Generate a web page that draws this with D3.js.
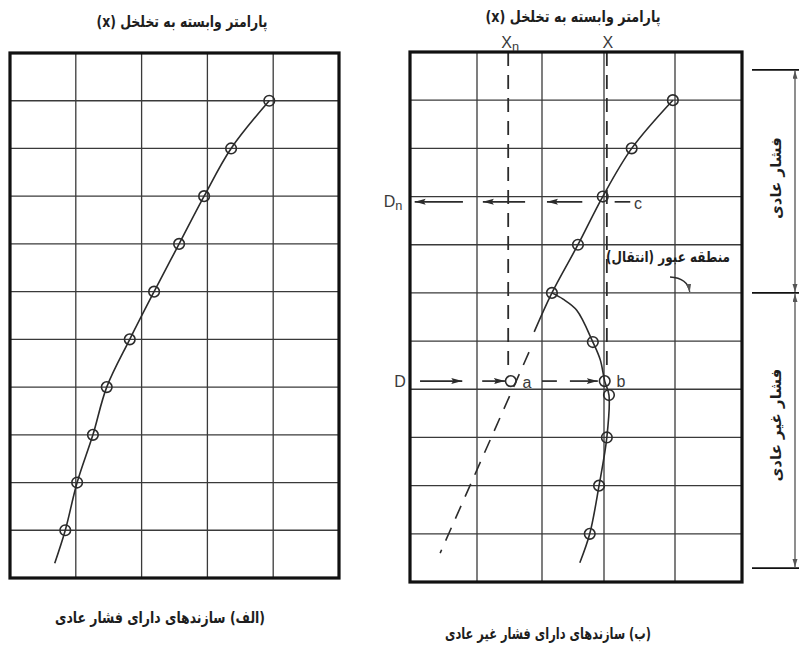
<!DOCTYPE html>
<html><head><meta charset="utf-8">
<script src="https://cdn.jsdelivr.net/npm/d3@7"></script>
<style>body{margin:0;background:#fff}svg{display:block}</style>
</head><body><svg id="c" width="799" height="645"></svg>
<script>
// ---- data ----
const gridCols = [0, 1, 2, 3, 4, 5];
const gridRows = d3.range(0, 12);

// Panel A (normal pressure)
const depthA = [1, 2, 3, 4, 5, 6, 7, 8, 9, 10];
const valueA = [3.94, 3.36, 2.95, 2.57, 2.19, 1.82, 1.47, 1.26, 1.02, 0.84];
const tailDepthA = 10.69, tailValueA = 0.68;

// Panel B (abnormal pressure) – normal trend part
const depthBUpper = [1, 2, 3, 4, 5];
const valueBUpper = [3.97, 3.39, 2.98, 2.58, 2.16];
const tailDepthBUpper = 5.81, tailValueBUpper = 1.88;
// abnormal part (measured points)
const depthBLower = [6.02, 6.83, 7.12, 8, 9, 10];
const valueBLower = [2.82, 3.01, 3.07, 3.04, 2.92, 2.77];
const tailDepthBLower = 10.6, tailValueBLower = 2.61;
// curve readings between the break point and the first abnormal point
const bendDepth = [5.13, 5.36, 6.02, 6.39, 6.83];
const bendValue = [2.34, 2.56, 2.82, 2.94, 3.01];
// extrapolated normal trend (dashed)
const trendDepth = [6.23, 10.40];
const trendValue = [1.80, 0.45];
// reading lines
const xnValue = 1.48, xValue = 3.04;
const pointA = {depth: 6.83, value: 1.52};
const dnDepth = 3.11, dDepth = 6.83;
const dnArrows = [[0.79, 0.07], [1.74, 1.09], [2.65, 2.08]];
const dnPlain = [[3.15, 3.37]];
const dArrows = [[0.15, 0.78], [1.08, 1.43], [2.45, 2.9]];
const dPlain = [[2.0, 2.24]];
const bracketDepths = [0.37, 5.0, 10.71];

// texts
const titleText = "پارامتر وابسته به تخلخل (x)";
const captionA = "(الف) سازندهای دارای فشار عادی";
const captionB = "(ب) سازندهای دارای فشار غیر عادی";
const zoneNormal = "فشار عادی";
const zoneAbnormal = "فشار غیر عادی";
const transitionText = "منطقه عبور (انتقال)";

// ---- drawing ----
const svg = d3.select("#c");
const ink = "#2b2b2b";
const faFont = "'DejaVu Sans', sans-serif";
const latFont = "'Liberation Sans', 'DejaVu Sans', sans-serif";

const defs = svg.append("defs");
defs.append("marker").attr("id", "arr").attr("markerUnits", "userSpaceOnUse")
  .attr("markerWidth", 12).attr("markerHeight", 8).attr("refX", 11).attr("refY", 3)
  .attr("orient", "auto-start-reverse")
  .append("path").attr("d", "M0,0 L11,3 L0,6 L2,3 Z").attr("fill", ink);
defs.append("marker").attr("id", "arrS").attr("markerUnits", "userSpaceOnUse")
  .attr("markerWidth", 10).attr("markerHeight", 6).attr("refX", 8).attr("refY", 2.5)
  .attr("orient", "auto-start-reverse")
  .append("path").attr("d", "M0,0 L8,2.5 L0,5 Z").attr("fill", "#555");

const xA = d3.scaleLinear().domain([0, 5]).range([10, 339]);
const yA = d3.scaleLinear().domain([0, 11]).range([53, 578]);
const xB = d3.scaleLinear().domain([0, 1, 2, 3, 4, 5]).range([410, 477, 542, 604, 675, 742]);
const yB = d3.scaleLinear().domain([0, 11]).range([52, 582]);

function drawGrid(x, y) {
  const g = svg.append("g");
  g.selectAll(".v").data(gridCols.slice(1, -1)).join("line")
    .attr("x1", d => x(d)).attr("x2", d => x(d))
    .attr("y1", y(0)).attr("y2", y(11))
    .attr("stroke", "#3a3a3a").attr("stroke-width", 1.3);
  g.selectAll(".h").data(gridRows.slice(1, -1)).join("line")
    .attr("y1", d => y(d)).attr("y2", d => y(d))
    .attr("x1", x(0)).attr("x2", x(5))
    .attr("stroke", "#3a3a3a").attr("stroke-width", 1.3);
}
function drawFrame(x, y) {
  svg.append("rect").attr("x", x(0)).attr("y", y(0))
    .attr("width", x(5) - x(0)).attr("height", y(11) - y(0))
    .attr("fill", "none").attr("stroke", "#111").attr("stroke-width", 3.2);
}
function curve(x, y, depths, values, dash) {
  const pts = depths.map((d, i) => [x(values[i]), y(d)]);
  svg.append("path").attr("d", d3.line().curve(d3.curveCatmullRom.alpha(0.5))(pts))
    .attr("fill", "none").attr("stroke", ink).attr("stroke-width", 1.6)
    .attr("stroke-dasharray", dash || null);
}
function circles(x, y, depths, values) {
  svg.append("g").selectAll("circle").data(depths).join("circle")
    .attr("cx", (d, i) => x(values[i])).attr("cy", d => y(d)).attr("r", 5.3)
    .attr("fill", "none").attr("stroke", ink).attr("stroke-width", 1.6);
}
function faText(txt, cx, cy, size, len, rot) {
  const t = svg.append("text").text(txt)
    .attr("x", cx).attr("y", cy)
    .attr("text-anchor", "middle").attr("dominant-baseline", "central")
    .attr("direction", "rtl").style("direction", "rtl").style("unicode-bidi", "embed")
    .attr("font-family", faFont).attr("font-size", size).attr("font-weight", "bold")
    .attr("fill", "#1e1e1e");
  if (len) t.attr("textLength", len).attr("lengthAdjust", "spacingAndGlyphs");
  if (rot) t.attr("transform", `rotate(${rot},${cx},${cy})`);
  return t;
}
function latText(main, sub, cx, cy, size) {
  const t = svg.append("text").attr("x", cx).attr("y", cy)
    .attr("text-anchor", "middle").attr("dominant-baseline", "central")
    .attr("font-family", latFont).attr("font-size", size).attr("fill", "#3a3a3a");
  t.append("tspan").text(main);
  if (sub) t.append("tspan").attr("font-size", size * 0.8).attr("dy", 4).text(sub);
  return t;
}

// ---- Panel A ----
drawGrid(xA, yA);
curve(xA, yA, depthA.concat([tailDepthA]), valueA.concat([tailValueA]));
circles(xA, yA, depthA, valueA);
drawFrame(xA, yA);
faText(titleText, 182, 21, 16, 171);
faText(captionA, 160, 617, 16, 210);

// ---- Panel B ----
drawGrid(xB, yB);
// reading dashed verticals
[[xnValue, 0, 6.65], [xValue, 0, 6.6]].forEach(([v, d0, d1]) => {
  svg.append("line").attr("x1", xB(v)).attr("x2", xB(v))
    .attr("y1", yB(d0)).attr("y2", yB(d1))
    .attr("stroke", ink).attr("stroke-width", 1.8).attr("stroke-dasharray", "14,9");
});
curve(xB, yB, depthBUpper.concat([tailDepthBUpper]), valueBUpper.concat([tailValueBUpper]));
curve(xB, yB, [depthBUpper[4]].concat(bendDepth, depthBLower.slice(2), [tailDepthBLower]),
  [valueBUpper[4]].concat(bendValue, valueBLower.slice(2), [tailValueBLower]));
curve(xB, yB, trendDepth, trendValue, "14,10");
circles(xB, yB, depthBUpper, valueBUpper);
circles(xB, yB, depthBLower, valueBLower);
circles(xB, yB, [pointA.depth], [pointA.value]);

// horizontal arrow lines
function segs(list, depth, withArrow) {
  svg.append("g").selectAll("line").data(list).join("line")
    .attr("x1", d => xB(d[0])).attr("x2", d => xB(d[1]))
    .attr("y1", yB(depth)).attr("y2", yB(depth))
    .attr("stroke", ink).attr("stroke-width", 1.7)
    .attr("marker-end", withArrow ? "url(#arr)" : null);
}
segs(dnArrows, dnDepth, true);
segs(dnPlain, dnDepth, false);
segs(dArrows, dDepth, true);
segs(dPlain, dDepth, false);
drawFrame(xB, yB);

// labels
faText(titleText, 573, 16, 16, 175);
faText(captionB, 548, 633, 16, 206);
latText("X", "n", xB(xnValue) + 2, 42, 16);
latText("X", null, xB(xValue) + 1, 42, 16);
latText("D", "n", 393, yB(dnDepth) - 1, 16);
latText("D", null, 400, yB(dDepth), 16);
latText("c", null, 638, yB(dnDepth) + 1, 16);
latText("a", null, 527, yB(dDepth) + 1, 16);
latText("b", null, 621, yB(dDepth), 16);

// transition annotation
faText(transitionText, 668, yB(4.25), 15, 124);
const lp0 = [xB(3.93), yB(4.67)], lp1 = [xB(4.22), yB(4.98)];
svg.append("path")
  .attr("d", `M${lp0[0]},${lp0[1]} Q${lp1[0] - 2},${lp0[1] + 1} ${lp1[0]},${lp1[1]}`)
  .attr("fill", "none").attr("stroke", ink).attr("stroke-width", 1.4)
  .attr("marker-end", "url(#arrS)");

// right bracket
const bx = 795;
svg.append("g").selectAll("line").data(bracketDepths).join("line")
  .attr("x1", 752).attr("x2", 799).attr("y1", d => yB(d)).attr("y2", d => yB(d))
  .attr("stroke", "#111").attr("stroke-width", 1.8);
d3.pairs(bracketDepths).forEach(([a, b]) => {
  svg.append("line").attr("x1", bx).attr("x2", bx)
    .attr("y1", yB(a) + 1).attr("y2", yB(b) - 1)
    .attr("stroke", "#444").attr("stroke-width", 1.2)
    .attr("marker-start", "url(#arrS)").attr("marker-end", "url(#arrS)");
});
faText(zoneNormal, 776, 178, 15, null, -90);
faText(zoneAbnormal, 776, 425, 15, null, -90);
</script></body></html>
